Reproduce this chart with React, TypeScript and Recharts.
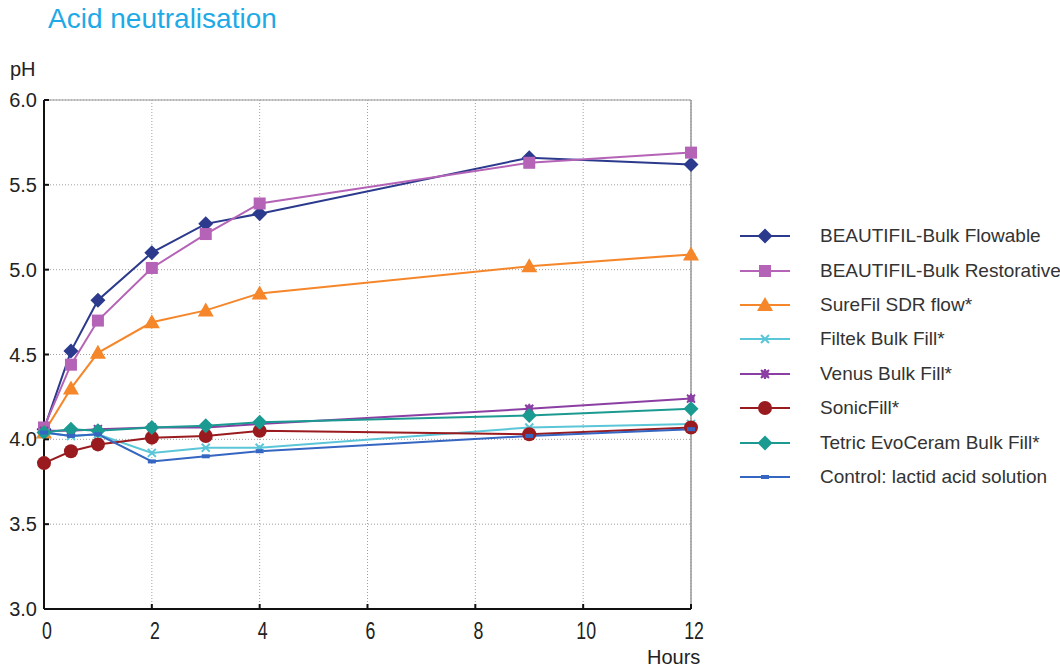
import React from 'react';
import {
  LineChart,
  Line,
  XAxis,
  YAxis,
  CartesianGrid,
  ReferenceLine,
} from 'recharts';

const hours = [0, 0.5, 1, 2, 3, 4, 9, 12];

const beautifilFlowable = [4.06, 4.52, 4.82, 5.1, 5.27, 5.33, 5.66, 5.62];
const beautifilRestorative = [4.07, 4.44, 4.7, 5.01, 5.21, 5.39, 5.63, 5.69];
const sureFil = [4.04, 4.3, 4.51, 4.69, 4.76, 4.86, 5.02, 5.09];
const filtek = [4.04, 4.02, 4.03, 3.92, 3.95, 3.95, 4.07, 4.09];
const venus = [4.05, 4.05, 4.06, 4.07, 4.07, 4.09, 4.18, 4.24];
const sonicFill = [3.86, 3.93, 3.97, 4.01, 4.02, 4.05, 4.03, 4.07];
const tetric = [4.04, 4.06, 4.05, 4.07, 4.08, 4.1, 4.14, 4.18];
const control = [4.04, 4.02, 4.03, 3.87, 3.9, 3.93, 4.02, 4.06];

const xTicks = [0, 2, 4, 6, 8, 10, 12];
const yTicks = [3, 3.5, 4, 4.5, 5, 5.5, 6];

const series = [
  { key: 'flow', name: 'BEAUTIFIL-Bulk Flowable', values: beautifilFlowable, color: '#2b3a8c', shape: 'diamond' },
  { key: 'rest', name: 'BEAUTIFIL-Bulk Restorative', values: beautifilRestorative, color: '#b463b6', shape: 'square' },
  { key: 'sdr', name: 'SureFil SDR flow*', values: sureFil, color: '#f5862a', shape: 'triangle' },
  { key: 'filtek', name: 'Filtek Bulk Fill*', values: filtek, color: '#5ac6d8', shape: 'cross' },
  { key: 'venus', name: 'Venus Bulk Fill*', values: venus, color: '#8c3fa3', shape: 'star' },
  { key: 'sonic', name: 'SonicFill*', values: sonicFill, color: '#9a1b1f', shape: 'circle' },
  { key: 'tetric', name: 'Tetric EvoCeram Bulk Fill*', values: tetric, color: '#1b9a91', shape: 'diamond' },
  { key: 'control', name: 'Control: lactid acid solution', values: control, color: '#3566c2', shape: 'dash' },
];

const data = hours.map((h, i) => {
  const row: Record<string, number> = { h };
  series.forEach((s) => {
    row[s.key] = s.values[i];
  });
  return row;
});

const FONT = '"Liberation Sans", Arial, Helvetica, sans-serif';

function Marker({ cx, cy, shape, color }: { cx: number; cy: number; shape: string; color: string }) {
  if (cx == null || cy == null) return null;
  switch (shape) {
    case 'diamond':
      return <path d={`M${cx},${cy - 7.5}L${cx + 7.5},${cy}L${cx},${cy + 7.5}L${cx - 7.5},${cy}Z`} fill={color} />;
    case 'square':
      return <rect x={cx - 6} y={cy - 6} width={12} height={12} fill={color} />;
    case 'triangle':
      return <path d={`M${cx},${cy - 8}L${cx + 8},${cy + 6}L${cx - 8},${cy + 6}Z`} fill={color} />;
    case 'cross':
      return (
        <path
          d={`M${cx - 4},${cy - 4}L${cx + 4},${cy + 4}M${cx + 4},${cy - 4}L${cx - 4},${cy + 4}`}
          stroke={color}
          strokeWidth={2}
        />
      );
    case 'star':
      return (
        <g stroke={color} strokeWidth={2}>
          <path d={`M${cx - 4},${cy - 4}L${cx + 4},${cy + 4}M${cx + 4},${cy - 4}L${cx - 4},${cy + 4}M${cx},${cy - 5}L${cx},${cy + 5}`} />
          <rect x={cx - 2.5} y={cy - 2.5} width={5} height={5} fill={color} />
        </g>
      );
    case 'circle':
      return <circle cx={cx} cy={cy} r={7} fill={color} />;
    case 'dash':
      return <rect x={cx - 4} y={cy - 2} width={8} height={4} fill={color} />;
    default:
      return null;
  }
}

function YTick({ x, y, payload }: any) {
  return (
    <g>
      <text x={x} y={y} dy={7} textAnchor="end" fontSize={20} fill="#222" fontFamily={FONT}>
        {Number(payload.value).toFixed(1)}
      </text>
      <line x1={x + 7} x2={x + 12} y1={y} y2={y} stroke="#111" strokeWidth={2} />
    </g>
  );
}

// tick labels on the hours axis are set in a condensed face in the original
function XTick({ x, y, payload }: any) {
  return (
    <g>
      <line x1={x} x2={x} y1={y - 14} y2={y - 19} stroke="#111" strokeWidth={2} />
      <g transform={`translate(${x + 3},${y + 16}) scale(0.74,1)`}>
        <text x={0} y={0} textAnchor="middle" fontSize={24} fill="#222" fontFamily={FONT}>
          {payload.value}
        </text>
      </g>
    </g>
  );
}

function LegendBox() {
  return (
    <div style={{ position: 'absolute', left: 739, top: 219, fontFamily: FONT, fontSize: 19, color: '#333', whiteSpace: 'nowrap' }}>
      {series.map((s) => (
        <div key={s.key} style={{ display: 'flex', alignItems: 'center', height: 34.4 }}>
          <svg width={52} height={20} style={{ marginRight: 29 }}>
            <line x1={1} x2={51} y1={10} y2={10} stroke={s.color} strokeWidth={2} />
            <Marker cx={26} cy={10} shape={s.shape} color={s.color} />
          </svg>
          <span>{s.name}</span>
        </div>
      ))}
    </div>
  );
}

export default function App() {
  return (
    <div style={{ position: 'absolute', left: 0, top: 0, width: 1060, height: 668, background: '#fff', fontFamily: FONT, overflow: 'hidden' }}>
      <LineChart width={1060} height={668} data={data} margin={{ top: 100, right: 369, bottom: 0, left: 8 }}>
        <CartesianGrid stroke="#a0a0a0" strokeDasharray="1 2" strokeWidth={1} />
        <XAxis
          dataKey="h"
          type="number"
          domain={[0, 12]}
          ticks={xTicks}
          height={59}
          tickLine={false}
          tickSize={0}
          tickMargin={14}
          tick={<XTick />}
          axisLine={{ stroke: '#111', strokeWidth: 2 }}
        />
        <YAxis
          type="number"
          domain={[3, 6]}
          ticks={yTicks}
          width={36}
          tickLine={false}
          tickSize={0}
          tickMargin={7}
          tick={<YTick />}
          axisLine={{ stroke: '#111', strokeWidth: 2 }}
        />
        <ReferenceLine y={6} stroke="#999" strokeWidth={1} />
        <ReferenceLine x={12} stroke="#999" strokeWidth={1.5} />
        {series.map((s) => (
          <Line
            key={s.key}
            dataKey={s.key}
            name={s.name}
            stroke={s.color}
            strokeWidth={2}
            isAnimationActive={false}
            dot={(p: any) => <Marker key={`${s.key}-${p.index}`} cx={p.cx} cy={p.cy} shape={s.shape} color={s.color} />}
            activeDot={false}
          />
        ))}
      </LineChart>
      <div style={{ position: 'absolute', left: 48, top: 3, fontSize: 28, color: '#1eaae6', whiteSpace: 'nowrap' }}>
        Acid neutralisation
      </div>
      <div style={{ position: 'absolute', left: 10, top: 58, fontSize: 20, color: '#222' }}>pH</div>
      <div style={{ position: 'absolute', left: 647, top: 646, fontSize: 20, color: '#222' }}>Hours</div>
      <LegendBox />
    </div>
  );
}
